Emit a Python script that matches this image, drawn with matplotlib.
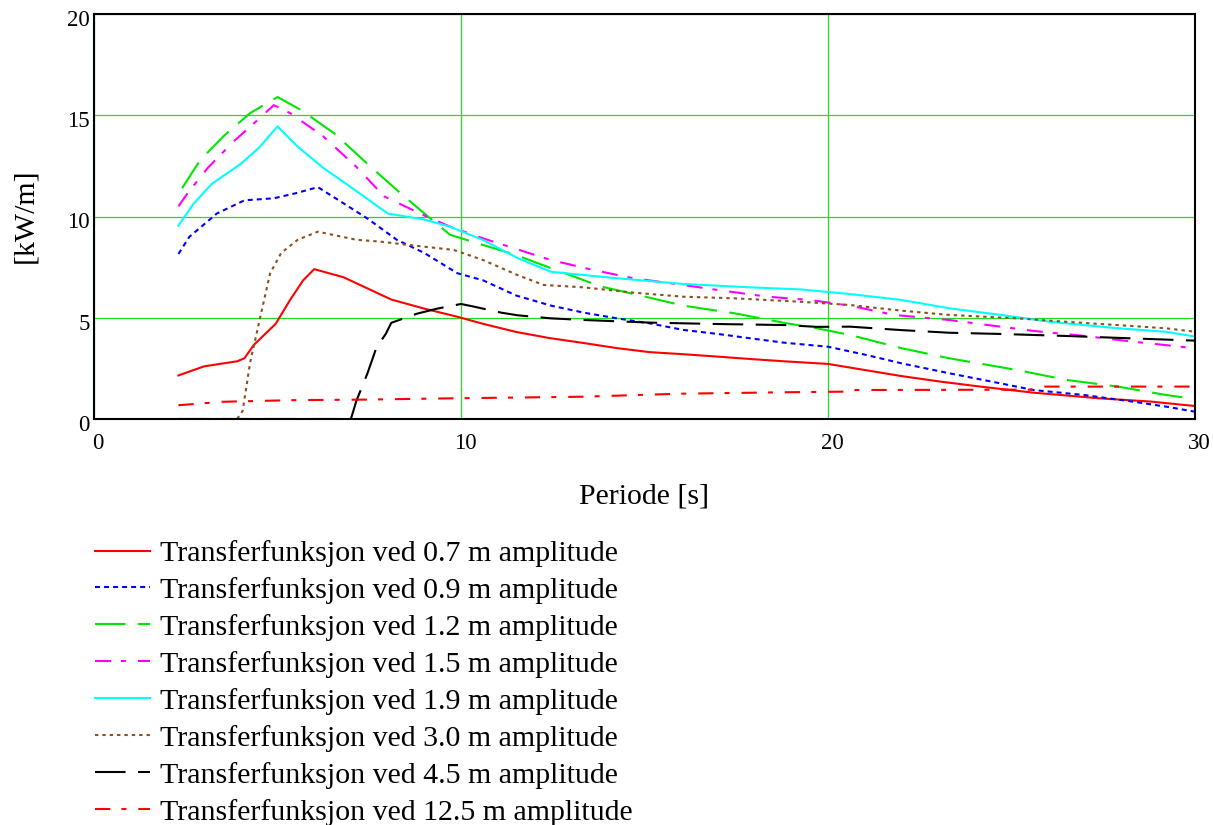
import matplotlib
matplotlib.use("Agg")
import matplotlib.pyplot as plt
import matplotlib.transforms as mtransforms

plt.rcParams['font.family'] = ['Liberation Serif', 'DejaVu Serif']
plt.rcParams['lines.scale_dashes'] = False

# ---- data ----
labels = [
    "Transferfunksjon ved 0.7 m amplitude",
    "Transferfunksjon ved 0.9 m amplitude",
    "Transferfunksjon ved 1.2 m amplitude",
    "Transferfunksjon ved 1.5 m amplitude",
    "Transferfunksjon ved 1.9 m amplitude",
    "Transferfunksjon ved 3.0 m amplitude",
    "Transferfunksjon ved 4.5 m amplitude",
    "Transferfunksjon ved 12.5 m amplitude",
]

x_07 = [2.3, 3.0, 3.9, 4.1, 4.35, 4.95, 5.35, 5.7, 6.0, 6.8, 7.45, 8.1, 9.0, 9.9, 10.6, 11.5, 12.4,
        13.35, 14.25, 15.15, 16.05, 17.0, 17.9, 18.8, 20.0, 20.9, 22.0, 23.05, 24.15, 25.6, 27.4, 28.8, 30.0]
y_07 = [2.15, 2.6, 2.85, 3.0, 3.65, 4.7, 5.9, 6.85, 7.4, 7.0, 6.45, 5.9, 5.45, 5.05, 4.7, 4.3, 4.0,
        3.75, 3.5, 3.3, 3.2, 3.08, 2.96, 2.85, 2.72, 2.45, 2.12, 1.85, 1.6, 1.3, 1.02, 0.86, 0.64]

x_09 = [2.3, 2.6, 3.35, 4.1, 4.9, 5.5, 6.1, 6.8, 7.45, 8.25, 9.0, 9.9, 10.6, 11.5, 12.45, 13.35, 14.25,
        15.15, 16.05, 17.0, 17.9, 18.8, 20.0, 21.05, 22.0, 23.3, 24.7, 25.6, 27.0, 28.3, 29.25, 30.0]
y_09 = [8.15, 9.0, 10.15, 10.8, 10.9, 11.15, 11.45, 10.65, 9.9, 8.85, 8.2, 7.2, 6.85, 6.1, 5.6, 5.25, 4.97,
        4.72, 4.4, 4.2, 3.98, 3.77, 3.57, 3.16, 2.75, 2.26, 1.76, 1.43, 1.18, 0.86, 0.6, 0.36]

x_12 = [2.4, 2.9, 3.55, 4.25, 5.0, 5.65, 6.55, 7.45, 8.35, 9.1, 9.7, 10.3, 11.5, 12.45, 13.8, 15.0,
        16.05, 17.45, 18.8, 19.7, 20.6, 22.0, 23.3, 25.15, 26.5, 27.9, 29.2, 30.0]
y_12 = [11.4, 12.8, 14.0, 15.1, 15.9, 15.25, 14.1, 12.6, 11.15, 10.0, 9.1, 8.76, 8.1, 7.45, 6.55, 6.05,
        5.6, 5.22, 4.75, 4.48, 4.15, 3.5, 3.0, 2.42, 1.93, 1.6, 1.19, 0.99]

x_15 = [2.3, 2.55, 3.1, 3.8, 4.45, 4.9, 5.35, 6.25, 7.15, 7.9, 9.0, 9.7, 10.6, 12.45, 13.6, 14.7,
        16.05, 17.0, 18.35, 19.5, 20.6, 21.8, 23.3, 24.7, 25.6, 27.0, 28.3, 29.2, 30.0]
y_15 = [10.5, 11.15, 12.4, 13.7, 14.75, 15.5, 15.1, 13.95, 12.45, 11.0, 10.05, 9.5, 8.92, 7.85, 7.36, 6.95,
        6.62, 6.37, 6.04, 5.88, 5.6, 5.14, 4.89, 4.56, 4.35, 4.1, 3.82, 3.65, 3.49]

x_19 = [2.3, 2.7, 3.2, 4.0, 4.5, 5.0, 5.55, 6.25, 7.0, 8.0, 9.0, 9.7, 10.6, 11.55, 12.45, 13.35, 14.25,
        16.05, 17.9, 19.25, 20.6, 22.0, 23.3, 24.7, 26.05, 27.9, 29.2, 30.0]
y_19 = [9.55, 10.6, 11.6, 12.6, 13.4, 14.45, 13.45, 12.4, 11.45, 10.15, 9.85, 9.5, 8.84, 7.94, 7.27, 7.11, 6.95,
        6.67, 6.5, 6.4, 6.17, 5.88, 5.47, 5.14, 4.8, 4.48, 4.31, 4.07]

x_30 = [2.3, 3.9, 4.05, 4.25, 4.55, 4.8, 5.1, 5.55, 6.1, 7.15, 7.8, 8.55, 9.8, 10.6, 11.55, 12.25, 13.35,
        14.7, 16.05, 17.45, 19.25, 20.6, 22.0, 23.3, 25.15, 26.5, 28.3, 29.2, 30.0]
y_30 = [0.0, 0.0, 0.4, 2.75, 5.2, 7.2, 8.2, 8.85, 9.25, 8.85, 8.76, 8.6, 8.35, 7.85, 7.1, 6.62, 6.5,
        6.24, 6.04, 5.96, 5.79, 5.63, 5.35, 5.14, 4.97, 4.8, 4.59, 4.48, 4.31]

x_45 = [2.3, 7.0, 7.15, 7.45, 7.7, 7.95, 8.1, 8.8, 9.35, 10.0, 10.35, 11.1, 11.55, 12.45, 13.35, 15.15,
        17.0, 18.8, 19.7, 20.6, 22.0, 23.3, 24.7, 26.5, 28.3, 30.0]
y_45 = [0.0, 0.0, 0.9, 2.25, 3.55, 4.2, 4.75, 5.2, 5.45, 5.68, 5.55, 5.25, 5.12, 4.97, 4.89, 4.76,
        4.69, 4.64, 4.55, 4.56, 4.39, 4.26, 4.2, 4.1, 3.98, 3.87]

x_125 = [2.3, 3.5, 5.4, 7.5, 9.7, 13.3, 16.0, 18.8, 20.4, 20.7, 25.6, 25.9, 30.0]
y_125 = [0.68, 0.85, 0.93, 0.96, 1.02, 1.1, 1.25, 1.32, 1.35, 1.43, 1.45, 1.6, 1.6]

xs = [x_07, x_09, x_12, x_15, x_19, x_30, x_45, x_125]
ys = [y_07, y_09, y_12, y_15, y_19, y_30, y_45, y_125]

colors = ['#ff0000', '#0000ff', '#00e600', '#ff00ff', '#00ffff', '#8c5020', '#000000', '#ff0000']
styles = ['-', (0, (3.6, 2.9)), (0, (22, 9)), (0, (11.5, 7.2, 3.6, 8.6)), '-',
          (0, (2.4, 2.9)), (0, (22, 9)), (0, (11, 8, 3.6, 8.6))]

W, H = 1213, 825
fig = plt.figure(figsize=(W / 100, H / 100), dpi=100)
L, R, T, B = 94, 1195, 14, 419
ax = fig.add_axes([L / W, 1 - B / H, (R - L) / W, (B - T) / H])

handles = []
for x, y, c, s, lab in zip(xs, ys, colors, styles, labels):
    h, = ax.plot(x, y, color=c, linestyle=s, linewidth=1.5, label=lab, zorder=3)
    handles.append(h)

ax.set_xlim(0, 30)
ax.set_ylim(0, 20)
ax.set_xticks([0, 10, 20, 30])
ax.set_yticks([0, 5, 10, 15, 20])
ax.grid(True, color='#22dd22', linewidth=0.9)
ax.set_axisbelow(True)
for sp in ax.spines.values():
    sp.set_linewidth(1.5)
    sp.set_color('black')
    sp.set_zorder(4)
ax.tick_params(length=0, labelsize=16.5)
ax.tick_params(axis='x', pad=10)
ax.tick_params(axis='y', pad=3)
off_x = mtransforms.ScaledTranslation(4 / 100, 0, fig.dpi_scale_trans)
for lbl in ax.get_xticklabels():
    lbl.set_transform(lbl.get_transform() + off_x)
off_y = mtransforms.ScaledTranslation(0, -4 / 100, fig.dpi_scale_trans)
for lbl in ax.get_yticklabels():
    lbl.set_transform(lbl.get_transform() + off_y)

fig.text((L + R) / 2 / W, 1 - 497 / H, 'Periode [s]', ha='center', va='center', fontsize=21.5)
fig.text(25 / W, 1 - 216 / H, '[kW/m]', ha='center', va='center', rotation=90, fontsize=21.5)

fig.legend(handles=handles, labels=labels, loc='upper left',
           bbox_to_anchor=(95 / W, 1 - 540 / H), bbox_transform=fig.transFigure,
           frameon=False, fontsize=21.5, borderpad=0, borderaxespad=0,
           handlelength=1.84, handletextpad=0.33, labelspacing=0.335)

fig.savefig('out.png', dpi=100)
